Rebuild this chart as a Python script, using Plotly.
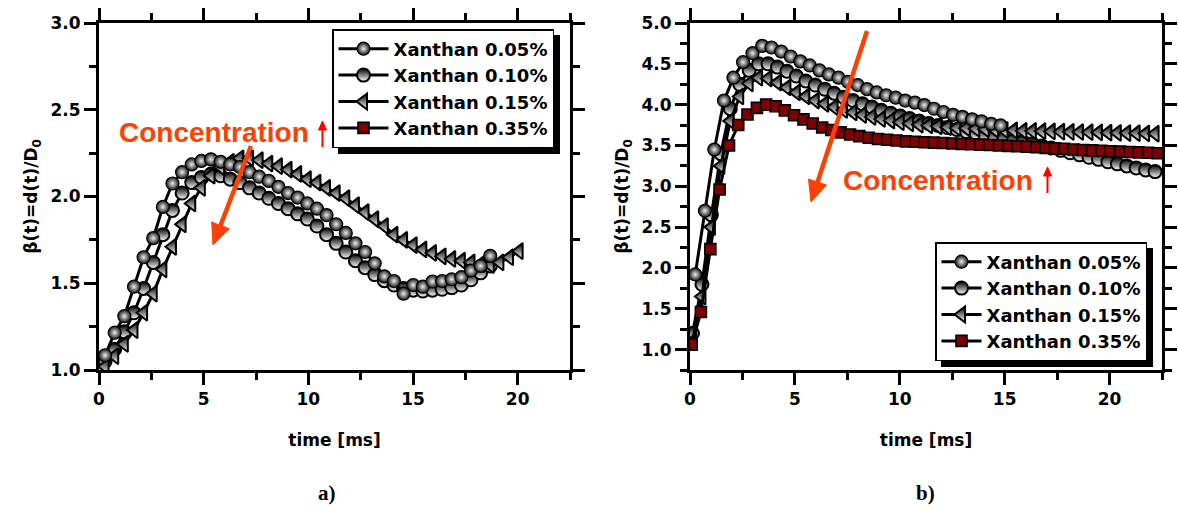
import math
import plotly.graph_objects as go

# ---------------- Panel a) data ----------------
T_A = [0.29, 0.75, 1.21, 1.67, 2.13, 2.59, 3.05, 3.51, 3.97, 4.43, 4.89, 5.35, 5.81, 6.27,
       6.73, 7.19, 7.65, 8.11, 8.57, 9.03, 9.49, 9.95, 10.41, 10.87, 11.33, 11.79, 12.25,
       12.71, 13.17, 13.63, 14.09, 14.55, 15.01, 15.47, 15.93, 16.39, 16.85, 17.31, 17.77,
       18.23, 18.69, 19.15, 19.61, 20.07]
A_005 = [1.085, 1.215, 1.31, 1.48, 1.65, 1.76, 1.94, 2.075, 2.14, 2.185, 2.205, 2.214, 2.20,
         2.185, 2.17, 2.14, 2.114, 2.09, 2.056, 2.02, 1.994, 1.96, 1.93, 1.893, 1.84, 1.79,
         1.73, 1.68, 1.615, 1.54, 1.513, 1.44, 1.49, 1.48, 1.51, 1.513, 1.523, 1.535, 1.573,
         1.60, 1.658]
A_010 = [1.05, 1.12, 1.22, 1.33, 1.47, 1.62, 1.78, 1.92, 2.02, 2.08, 2.11, 2.13, 2.12, 2.10,
         2.08, 2.05, 2.02, 1.99, 1.96, 1.93, 1.90, 1.87, 1.83, 1.78, 1.73, 1.68, 1.63, 1.59,
         1.55, 1.515, 1.49, 1.47, 1.46, 1.455, 1.46, 1.465, 1.475, 1.49, 1.52, 1.56, 1.60]
A_015 = [1.02, 1.08, 1.15, 1.23, 1.33, 1.44, 1.58, 1.71, 1.84, 1.96, 2.05, 2.12, 2.17, 2.20,
         2.22, 2.22, 2.21, 2.19, 2.175, 2.155, 2.13, 2.10, 2.08, 2.05, 2.02, 1.99, 1.95, 1.91,
         1.87, 1.83, 1.78, 1.75, 1.72, 1.695, 1.675, 1.655, 1.64, 1.63, 1.62, 1.61, 1.605,
         1.62, 1.65, 1.685]

# ---------------- Panel b) data ----------------
T_B_005 = [0.25, 0.71, 1.16, 1.62, 2.07, 2.53, 2.98, 3.44, 3.89, 4.35, 4.80, 5.26, 5.71, 6.17,
           6.62, 7.08, 7.53, 7.99, 8.44, 8.90, 9.35, 9.81, 10.26, 10.72, 11.17, 11.63, 12.08,
           12.54, 12.99, 13.45, 13.90, 14.36, 14.81]
B_005 = [1.92, 2.70, 3.45, 4.05, 4.33, 4.52, 4.63, 4.72, 4.70, 4.65, 4.59, 4.53, 4.48, 4.42,
         4.37, 4.33, 4.28, 4.24, 4.19, 4.15, 4.115, 4.085, 4.05, 4.025, 3.995, 3.95, 3.91,
         3.875, 3.85, 3.82, 3.795, 3.765, 3.745]
T_B_MID = [0.12, 0.57, 1.02, 1.47, 1.92, 2.37, 2.82, 3.27, 3.72, 4.17, 4.62, 5.07, 5.52, 5.97,
           6.42, 6.87, 7.32, 7.77, 8.22, 8.67, 9.12, 9.57, 10.02, 10.47, 10.92, 11.37, 11.82,
           12.27, 12.72, 13.17, 13.62, 14.07, 14.52, 14.97, 15.42, 15.87, 16.32, 16.77, 17.22,
           17.67, 18.12, 18.57, 19.02, 19.47, 19.92, 20.37, 20.82, 21.27, 21.72, 22.17]
B_010 = [1.20, 1.80, 2.65, 3.40, 3.95, 4.25, 4.42, 4.50, 4.50, 4.46, 4.41, 4.35, 4.29, 4.24,
         4.19, 4.14, 4.09, 4.05, 4.01, 3.97, 3.93, 3.895, 3.86, 3.83, 3.80, 3.77, 3.745, 3.72,
         3.695, 3.67, 3.65, 3.625, 3.605, 3.585, 3.565, 3.545, 3.52, 3.495, 3.47, 3.44, 3.41,
         3.385, 3.355, 3.33, 3.30, 3.275, 3.25, 3.225, 3.20, 3.18]
B_015 = [1.10, 1.65, 2.50, 3.25, 3.80, 4.10, 4.26, 4.33, 4.32, 4.27, 4.21, 4.15, 4.10, 4.05,
         4.01, 3.97, 3.935, 3.905, 3.875, 3.85, 3.825, 3.805, 3.785, 3.77, 3.755, 3.745, 3.735,
         3.725, 3.715, 3.71, 3.705, 3.70, 3.695, 3.69, 3.685, 3.68, 3.678, 3.675, 3.672, 3.67,
         3.667, 3.665, 3.662, 3.66, 3.657, 3.655, 3.652, 3.65, 3.647, 3.645]
T_B_035 = [0.08, 0.52, 0.97, 1.41, 1.86, 2.30, 2.74, 3.19, 3.63, 4.08, 4.52, 4.96, 5.41, 5.85,
           6.30, 6.74, 7.18, 7.63, 8.07, 8.52, 8.96, 9.40, 9.85, 10.29, 10.74, 11.18, 11.62,
           12.07, 12.51, 12.96, 13.40, 13.84, 14.29, 14.73, 15.18, 15.62, 16.06, 16.51, 16.95,
           17.40, 17.84, 18.28, 18.73, 19.17, 19.62, 20.06, 20.50, 20.95, 21.39, 21.84, 22.28]
B_035 = [1.06, 1.46, 2.23, 2.96, 3.50, 3.75, 3.88, 3.96, 4.00, 3.98, 3.93, 3.87, 3.82, 3.77,
         3.72, 3.69, 3.66, 3.635, 3.615, 3.595, 3.58, 3.57, 3.56, 3.55, 3.545, 3.54, 3.535,
         3.53, 3.525, 3.52, 3.515, 3.51, 3.505, 3.50, 3.495, 3.49, 3.485, 3.48, 3.47, 3.465,
         3.46, 3.45, 3.445, 3.44, 3.435, 3.43, 3.425, 3.42, 3.415, 3.41, 3.405]

LABELS = ["Xanthan 0.05%", "Xanthan 0.10%", "Xanthan 0.15%", "Xanthan 0.35%"]

W, H = 1178, 508
FONT = "Liberation Sans, Arial, sans-serif"
WIDE = "DejaVu Sans, Verdana, sans-serif"
ORANGE = "#ff4000"

MARKERS = {
    0: dict(symbol="circle", size=13, color="#141414",
            gradient=dict(type="radial", color="#eeeeee"), line=dict(color="black", width=1.2)),
    1: dict(symbol="circle", size=13, color="black",
            gradient=dict(type="vertical", color="white"), line=dict(color="black", width=2)),
    2: dict(symbol="triangle-left", size=14, color="black",
            gradient=dict(type="vertical", color="white"), line=dict(color="black", width=2)),
    3: dict(symbol="square", size=11, color="#800000", line=dict(color="black", width=1.6)),
}

fig = go.Figure()

def add(tx, vals, k, xa, ya, legend):
    xs = tx[:len(vals)] if vals else [None]
    ys = vals if vals else [None]
    fig.add_trace(go.Scatter(
        x=xs, y=ys, mode="lines+markers", name=LABELS[k],
        line=dict(color="black", width=3), marker=MARKERS[k],
        xaxis=xa, yaxis=ya, legend=legend, legendrank=k + 1))

# panel a (drawing order: 0.10, 0.15, 0.05, 0.35)
add(T_A, A_010, 1, "x", "y", "legend")
add(T_A, A_015, 2, "x", "y", "legend")
add(T_A, A_005, 0, "x", "y", "legend")
add(T_A, [], 3, "x", "y", "legend")
# panel b
add(T_B_MID, B_010, 1, "x2", "y2", "legend2")
add(T_B_MID, B_015, 2, "x2", "y2", "legend2")
add(T_B_005, B_005, 0, "x2", "y2", "legend2")
add(T_B_035, B_035, 3, "x2", "y2", "legend2")

def px_x(p):
    return p / W

def px_y(p):
    return 1 - p / H

tickfont = dict(family=WIDE, size=17, color="black", weight="bold")
titlefont = dict(family=WIDE, size=17, color="black", weight="bold")
legfont = dict(family=WIDE, size=18, color="black", weight="bold")

def xaxis(domain, anchor):
    return dict(domain=domain, range=[0, 22.5], tickvals=[0, 5, 10, 15, 20], anchor=anchor,
                ticks="outside", ticklen=12, tickwidth=3, tickcolor="black",
                minor=dict(ticks="outside", ticklen=7, tickwidth=3, tickcolor="black", dtick=2.5, tick0=0),
                showline=True, linewidth=3, linecolor="black", mirror="ticks",
                showgrid=False, zeroline=False, tickfont=tickfont, automargin=False,
                title=dict(text="time [ms]", font=titlefont, standoff=26))

def yaxis(domain, rng, tvals, anchor):
    return dict(domain=domain, range=rng, tickvals=tvals, tickformat=".1f", anchor=anchor,
                ticks="outside", ticklen=12, tickwidth=3, tickcolor="black",
                minor=dict(ticks="outside", ticklen=7, tickwidth=3, tickcolor="black", dtick=0.25, tick0=0),
                showline=True, linewidth=3, linecolor="black", mirror="ticks",
                showgrid=False, zeroline=False, tickfont=tickfont, automargin=False,
                title=dict(text="β(t)=d(t)/D<sub>0</sub>", font=titlefont, standoff=9))

# legend boxes: (left, top, width, height) in pixels
LEG_A = (332, 29, 222, 119)
LEG_B = (935, 242, 212, 119)
SHADOW = 6

ydom = [px_y(370), px_y(23)]
fig.update_layout(
    width=W, height=H, margin=dict(l=0, r=0, t=0, b=0, autoexpand=False),
    paper_bgcolor="white", plot_bgcolor="white",
    xaxis=xaxis([px_x(99), px_x(570)], "y"),
    yaxis=yaxis(ydom, [1.0, 3.0], [1.0, 1.5, 2.0, 2.5, 3.0], "x"),
    xaxis2=xaxis([px_x(690), px_x(1162)], "y2"),
    yaxis2=yaxis(ydom, [0.75, 5.0], [1.0, 1.5, 2.0, 2.5, 3.0, 3.5, 4.0, 4.5, 5.0], "x2"),
    legend=dict(x=px_x(LEG_A[0]), y=px_y(LEG_A[1]), xanchor="left", yanchor="top",
                bgcolor="white", bordercolor="black", borderwidth=1.5, itemwidth=50,
                font=legfont, tracegroupgap=0),
    legend2=dict(x=px_x(LEG_B[0]), y=px_y(LEG_B[1]), xanchor="left", yanchor="top",
                 bgcolor="white", bordercolor="black", borderwidth=1.5, itemwidth=40,
                 font=legfont, tracegroupgap=0),
    showlegend=True,
)

shapes = []
# legend drop shadows
for (lx, ly, lw, lh) in (LEG_A, LEG_B):
    shapes.append(dict(type="rect", xref="paper", yref="paper", layer="above",
                       x0=px_x(lx + SHADOW), x1=px_x(lx + lw + SHADOW),
                       y0=px_y(ly + lh + SHADOW), y1=px_y(ly + SHADOW),
                       fillcolor="black", line=dict(width=0)))

def arrow(tail, tip, color, width, head_len, head_half):
    dx, dy = tip[0] - tail[0], tip[1] - tail[1]
    L = math.hypot(dx, dy)
    ux, uy = dx / L, dy / L
    bx, by = tip[0] - ux * head_len, tip[1] - uy * head_len
    px_, py_ = -uy, ux
    shapes.append(dict(type="line", xref="paper", yref="paper", layer="above",
                       x0=px_x(tail[0]), y0=px_y(tail[1]),
                       x1=px_x(bx + ux * 2), y1=px_y(by + uy * 2),
                       line=dict(color=color, width=width)))
    p1 = (bx + px_ * head_half, by + py_ * head_half)
    p2 = (bx - px_ * head_half, by - py_ * head_half)
    path = "M{:.5f},{:.5f} L{:.5f},{:.5f} L{:.5f},{:.5f} Z".format(
        px_x(tip[0]), px_y(tip[1]), px_x(p1[0]), px_y(p1[1]), px_x(p2[0]), px_y(p2[1]))
    shapes.append(dict(type="path", xref="paper", yref="paper", layer="above", path=path,
                       fillcolor=color, line=dict(color=color, width=1)))

arrow((251, 146), (213, 245), ORANGE, 4.5, 21, 9.5)
arrow((867, 31), (811, 202), ORANGE, 4.5, 21, 9.5)
arrow((322.5, 147), (322.5, 121), "red", 2, 9, 4)
arrow((1047.5, 193), (1047.5, 167), "red", 2, 9, 4)
fig.update_layout(shapes=shapes)

ann = []
ann.append(dict(x=5.5, y=2.368, xref="x", yref="y", showarrow=False,
                text="Concentration", font=dict(family=FONT, size=28, color=ORANGE, weight="bold")))
ann.append(dict(x=11.81, y=3.07, xref="x2", yref="y2", showarrow=False,
                text="Concentration", font=dict(family=FONT, size=28, color=ORANGE, weight="bold")))
for lab, xp in (("a)", 327), ("b)", 925)):
    ann.append(dict(x=px_x(xp), y=px_y(493), xref="paper", yref="paper", showarrow=False,
                    xanchor="center", yanchor="middle",
                    text=lab, font=dict(family="Liberation Serif, Times New Roman, serif",
                                        size=21, color="black", weight="bold")))
fig.update_layout(annotations=ann)

fig.write_html("out.html", config={"displayModeBar": False},
               post_script="document.body.style.margin='0';")
